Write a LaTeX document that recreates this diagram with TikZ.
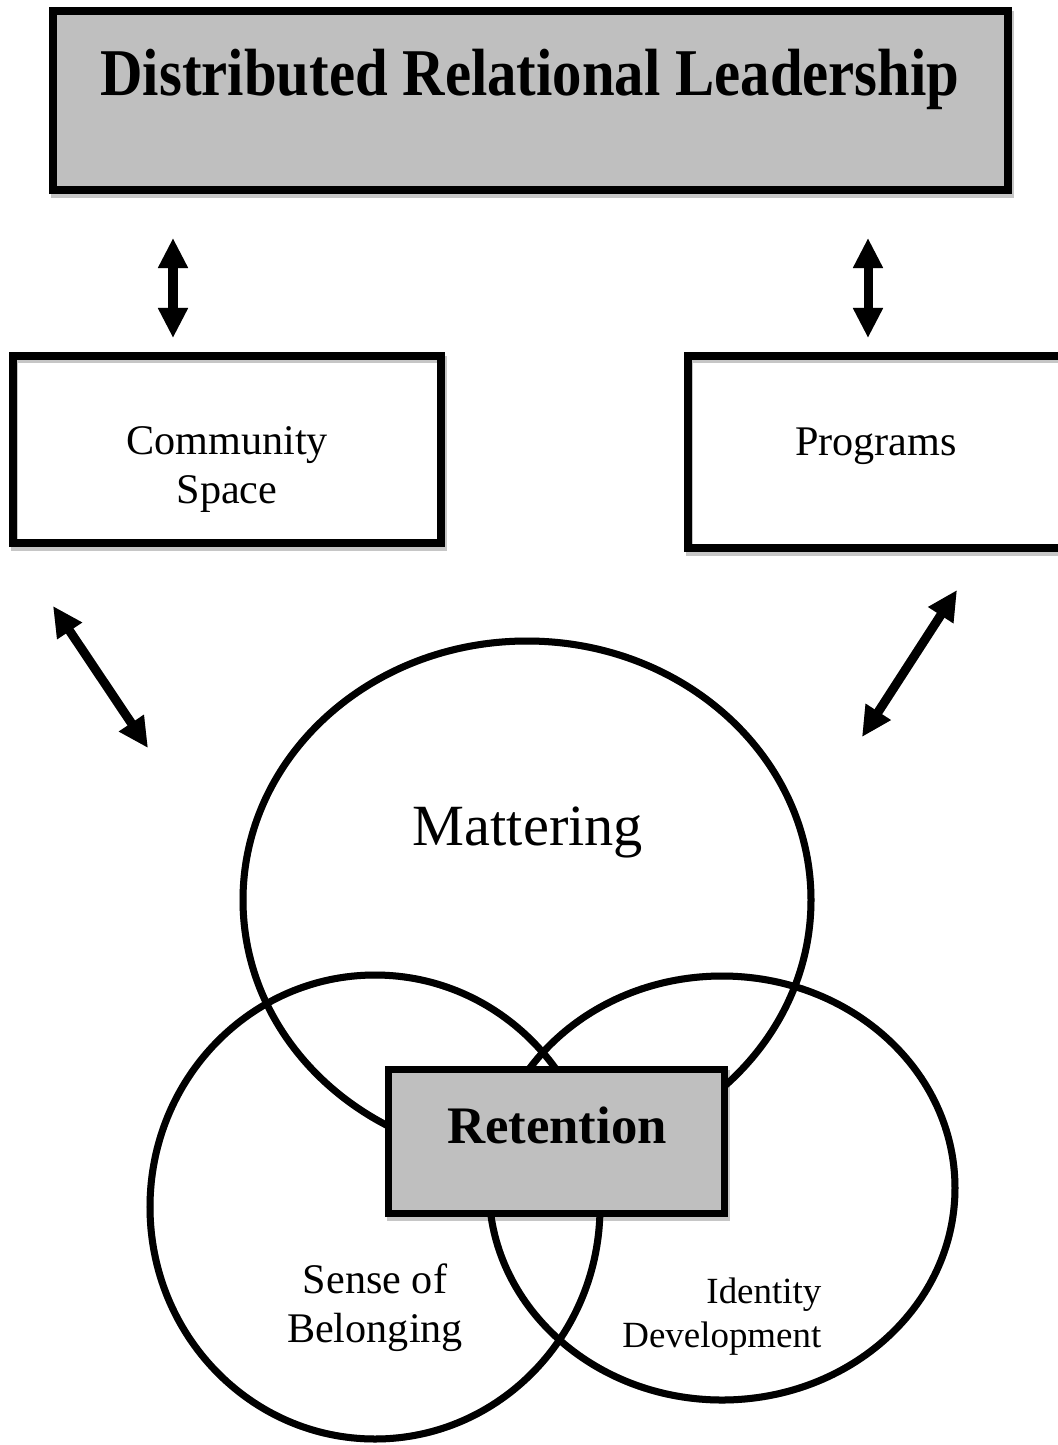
\documentclass[tikz,border=0pt]{standalone}
\usepackage{fontspec}
\usepackage{graphicx}
\setmainfont{Liberation Serif}
\usetikzlibrary{arrows.meta,backgrounds}
\definecolor{boxgray}{HTML}{BFBFBF}
\definecolor{shadowgray}{HTML}{C6C6C6}
\tikzset{
  frameBox/.style={draw=black, line width=0.08cm, inner sep=0pt, outer sep=0pt},
  greyBox/.style={frameBox, fill=boxgray},
  plainBox/.style={frameBox},
  vennRing/.style={draw=black, line width=0.07cm},
  linkArrow/.style={line width=0.09cm,
    {Triangle[length=0.3cm, width=0.28cm]}-{Triangle[length=0.3cm, width=0.28cm]}},
  shadowLine/.style={draw=shadowgray, line width=0.07cm},
  boxText/.style={font=\fontsize{12}{13.8}\selectfont, align=center, anchor=base},
  vennText/.style={font=\fontsize{12}{13.9}\selectfont, align=center, anchor=base}
}

\begin{document}
\begin{tikzpicture}[x=0.01cm, y=-0.01cm]
  \useasboundingbox (0,0) rectangle (1058,1445);

  % boxes
  \node[greyBox, minimum width=9.55cm, minimum height=1.79cm] (lead) at (530.5,100.5) {};
  \node[plainBox, minimum width=4.28cm, minimum height=1.87cm] (space) at (227,449.5) {};
  \node[plainBox, minimum width=4.22cm, minimum height=1.92cm] (prog) at (899,452) {};
  \node[greyBox, line width=0.07cm, minimum width=3.36cm, minimum height=1.44cm] (ret) at (556.5,1141.5) {};

  % centres of the three rings
  \coordinate (M) at (527,900);
  \coordinate (B) at (375,1207);
  \coordinate (I) at (722,1188);

  % arrow ends
  \coordinate (upL) at (173,238);
  \coordinate (dnL) at (173,338);
  \coordinate (upR) at (868,238);
  \coordinate (dnR) at (868,338);
  \coordinate (diagLa) at (53,606);
  \coordinate (diagLb) at (148,748);
  \coordinate (diagRa) at (957,590);
  \coordinate (diagRb) at (862,737);

  \begin{scope}[on background layer]
    \foreach \n in {lead,space,prog,ret}
      \draw[shadowLine] ([shift={(2,4)}]\n.north west) rectangle ([shift={(2,4)}]\n.south east);
    \begin{scope}[shift={(3,4)}, draw=shadowgray]
      \draw[shadowLine] (M) ellipse [x radius=284, y radius=259];
      \draw[shadowLine] (B) ellipse [x radius=225, y radius=232];
      \draw[shadowLine] (I) ellipse [x radius=233, y radius=212];
      \draw[linkArrow, shadowgray] (upL) -- (dnL);
      \draw[linkArrow, shadowgray] (upR) -- (dnR);
      \draw[linkArrow, shadowgray] (diagLa) -- (diagLb);
      \draw[linkArrow, shadowgray] (diagRa) -- (diagRb);
    \end{scope}
    \draw[vennRing] (M) ellipse [x radius=284, y radius=259];
    \draw[vennRing] (B) ellipse [x radius=225, y radius=232];
    \draw[vennRing] (I) ellipse [x radius=233, y radius=212];
  \end{scope}

  \draw[linkArrow] (upL) -- (dnL);
  \draw[linkArrow] (upR) -- (dnR);
  \draw[linkArrow] (diagLa) -- (diagLb);
  \draw[linkArrow] (diagRa) -- (diagRb);

  % labels (base = last line)
  \node[anchor=base, font=\fontsize{19}{22}\selectfont\bfseries] (leadText) at (530,95)
    {\scalebox{0.88}[1]{Distributed Relational Leadership}};
  \node[boxText] (spaceText) at (227,503) {Community\\Space};
  \node[boxText] (progText) at (876,455) {Programs};
  \node[anchor=base, font=\fontsize{16.6}{20}\selectfont] (mattText) at (528,845) {Mattering};
  \node[anchor=base, font=\fontsize{15}{18}\selectfont\bfseries] (retText) at (557,1143) {Retention};
  \node[vennText] (belText) at (375,1342) {Sense of\\Belonging};
  \node[vennText, align=right, anchor=base east, inner sep=0pt, font=\fontsize{10.5}{12.5}\selectfont] (idText) at (822,1347) {Identity\\Development};
\end{tikzpicture}
\end{document}
